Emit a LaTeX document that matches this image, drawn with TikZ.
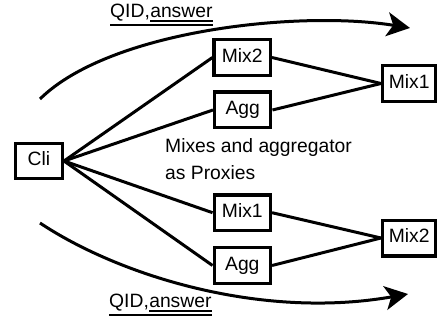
\documentclass[tikz,border=0pt]{standalone}
\usepackage{fontspec}
\setmainfont{Liberation Sans}
\usetikzlibrary{arrows.meta}
\begin{document}
\begin{tikzpicture}[x=1pt,y=-1pt,
  txt/.style={font=\fontsize{19.3}{23}\selectfont},
  box/.style={txt, draw, line width=3.3pt, inner sep=0pt, text height=13.8pt, text depth=4.6pt,
    minimum width=56.2pt, minimum height=35.7pt},
  rbox/.style={box, minimum width=53.2pt},
  lbl/.style={txt, inner sep=0pt},
  conn/.style={line width=3pt},
  flow/.style={line width=3pt, -{Stealth[length=23pt,width=24pt,inset=6pt]}},
  uline/.style={line width=1.8pt}]
\useasboundingbox (0,0) rectangle (438,320);
% nodes
\node[box, minimum width=46.7pt, minimum height=34.7pt] (cli) at (39,161) {Cli};
\node[box] (mixA) at (242.2,57.5) {Mix2};
\node[box] (aggA) at (242.7,110) {Agg};
\node[box] (mixB) at (242.3,212.7) {Mix1};
\node[box] (aggB) at (242.3,265.5) {Agg};
\node[rbox] (mixR1) at (409.2,83.5) {Mix1};
\node[rbox] (mixR2) at (409.2,238) {Mix2};
% connectors
\draw[conn] (cli.east) -- (mixA.west);
\draw[conn] (cli.east) -- (aggA.west);
\draw[conn] (cli.east) -- (mixB.west);
\draw[conn] (cli.east) -- (aggB.west);
\draw[conn] (mixA.east) -- (mixR1.west);
\draw[conn] (aggA.east) -- (mixR1.west);
\draw[conn] (mixB.east) -- (mixR2.west);
\draw[conn] (aggB.east) -- (mixR2.west);
% middle text
\node[lbl, anchor=base west] (m1) at (165,152.7) {Mixes and aggregator};
\node[lbl, anchor=base west] (m2) at (165,180) {as Proxies};
% flow arrows
\coordinate (ts) at (40,99);
\coordinate (te) at (410,28);
\coordinate (bs) at (40,223);
\coordinate (be) at (408,294);
\draw[flow] (ts) .. controls (110,30) and (300,10) .. (te);
\draw[flow] (bs) .. controls (118,275) and (260,320) .. (be);
% labels
\node[lbl, anchor=base west] (tq) at (110,17.5) {QID,};
\node[lbl, anchor=base west] (ta) at (tq.base east) {answer};
\draw[uline] ([yshift=-3.5pt]ta.base west) -- ([yshift=-3.5pt]ta.base east);
\draw[uline] ([yshift=-7.5pt]tq.base west) -- ([yshift=-7.5pt]ta.base east);
\node[lbl, anchor=base west] (bq) at (109,307.5) {QID,};
\node[lbl, anchor=base west] (ba) at (bq.base east) {answer};
\draw[uline] ([yshift=-3.5pt]ba.base west) -- ([yshift=-3.5pt]ba.base east);
\draw[uline] ([yshift=-7.5pt]bq.base west) -- ([yshift=-7.5pt]ba.base east);
\end{tikzpicture}
\end{document}
